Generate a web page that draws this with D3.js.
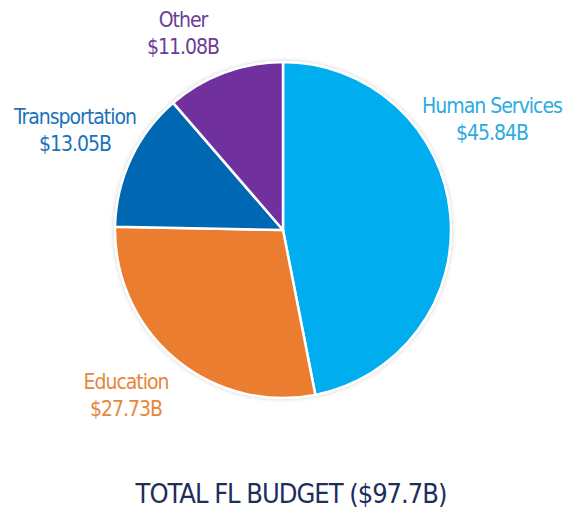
<!DOCTYPE html>
<html>
<head>
<meta charset="utf-8">
<script src="https://cdn.jsdelivr.net/npm/d3@7/dist/d3.min.js"></script>
<style>
  html, body { margin: 0; padding: 0; background: #ffffff; }
  svg { display: block; }
  text { font-family: "DejaVu Sans Condensed", "DejaVu Sans", sans-serif; font-stretch: condensed; }
</style>
</head>
<body>
<svg id="chart" width="564" height="514"></svg>
<script>
// Florida budget by area, in billions of dollars
const categories = ["Human Services", "Education", "Transportation", "Other"];
const values = [45.84, 27.73, 13.05, 11.08];
const valueLabels = ["$45.84B", "$27.73B", "$13.05B", "$11.08B"];
const sliceColors = ["#00AEEF", "#EB7D31", "#0068B3", "#70309E"];
const textColors = ["#2AABE2", "#E8863C", "#1B73BA", "#6A3E98"];
const titleText = "TOTAL FL BUDGET ($97.7B)";

// label anchor points (centre of the two-line label, first baseline)
const labelPos = [
  { x: 492, y: 113 },
  { x: 126, y: 389 },
  { x: 75, y: 124 },
  { x: 183, y: 27 }
];

const svg = d3.select("#chart");
const cx = 283, cy = 230, r = 168;

const defs = svg.append("defs");
const shadow = defs.append("filter").attr("id", "soft").attr("x", "-10%").attr("y", "-10%").attr("width", "120%").attr("height", "120%");
shadow.append("feDropShadow").attr("dx", 0).attr("dy", 0).attr("stdDeviation", 2.2)
  .attr("flood-color", "#000").attr("flood-opacity", 0.22);

const data = categories.map((c, i) => ({ name: c, value: values[i], i }));
const pie = d3.pie().value(d => d.value).sort(null);
const arc = d3.arc().innerRadius(0).outerRadius(r);

const g = svg.append("g").attr("transform", `translate(${cx},${cy})`);

// soft rim behind the pie
g.append("circle").attr("r", r + 1).attr("fill", "#fff").attr("filter", "url(#soft)");

g.selectAll("path.slice")
  .data(pie(data))
  .join("path")
  .attr("class", "slice")
  .attr("d", arc)
  .attr("fill", d => sliceColors[d.data.i])
  .attr("stroke", "#ffffff")
  .attr("stroke-width", 2.5)
  .attr("stroke-linejoin", "round");

// category labels
const labels = svg.selectAll("g.label")
  .data(data)
  .join("g")
  .attr("class", "label")
  .attr("transform", d => `translate(${labelPos[d.i].x},${labelPos[d.i].y})`);

labels.append("text")
  .attr("text-anchor", "middle")
  .attr("font-size", 21)
  .attr("letter-spacing", -1)
  .attr("fill", d => textColors[d.i])
  .text(d => d.name);

labels.append("text")
  .attr("text-anchor", "middle")
  .attr("y", 27)
  .attr("font-size", 21)
  .attr("letter-spacing", -1)
  .attr("fill", d => textColors[d.i])
  .text(d => valueLabels[d.i]);

svg.append("text")
  .attr("x", 291)
  .attr("y", 503)
  .attr("text-anchor", "middle")
  .attr("font-size", 27)
  .attr("letter-spacing", -1)
  .attr("fill", "#1E2E5C")
  .text(titleText);
</script>
</body>
</html>
